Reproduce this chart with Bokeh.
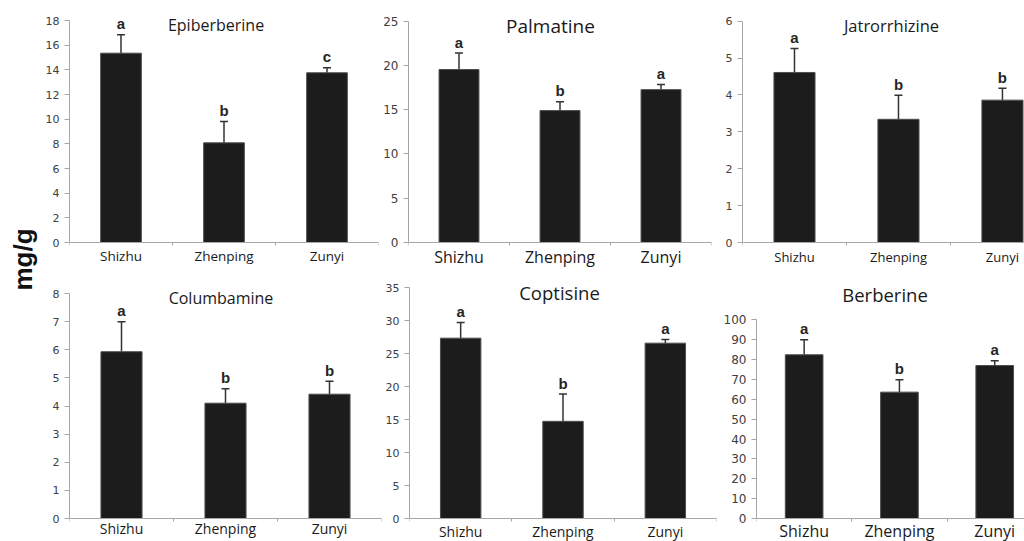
import math
from bokeh.plotting import figure
from bokeh.layouts import row, column
from bokeh.models import (Range1d, FixedTicker, Label, Whisker, TeeHead,
                          ColumnDataSource)
from bokeh.embed import file_html
from bokeh.resources import INLINE
from bokeh.core.properties import value

# ---------------- data ----------------
sites = ["Shizhu", "Zhenping", "Zunyi"]
compounds = ["Epiberberine", "Palmatine", "Jatrorrhizine",
             "Columbamine", "Coptisine", "Berberine"]
y_label = "mg/g"

epi_mean = [15.35, 8.08, 13.76]
epi_sd = [1.49, 1.73, 0.41]
epi_letters = ["a", "b", "c"]

pal_mean = [19.54, 14.90, 17.27]
pal_sd = [1.86, 1.00, 0.57]
pal_letters = ["a", "b", "a"]

jat_mean = [4.61, 3.34, 3.86]
jat_sd = [0.65, 0.65, 0.32]
jat_letters = ["a", "b", "b"]

col_mean = [5.93, 4.10, 4.42]
col_sd = [1.07, 0.51, 0.46]
col_letters = ["a", "b", "b"]

cop_mean = [27.36, 14.74, 26.60]
cop_sd = [2.38, 4.14, 0.57]
cop_letters = ["a", "b", "a"]

ber_mean = [82.4, 63.6, 77.0]
ber_sd = [7.5, 6.2, 2.4]
ber_letters = ["a", "b", "a"]

y_max = [18, 25, 6, 8, 35, 100]
y_step = [2, 5, 1, 1, 5, 10]

means = [epi_mean, pal_mean, jat_mean, col_mean, cop_mean, ber_mean]
sds = [epi_sd, pal_sd, jat_sd, col_sd, cop_sd, ber_sd]
letters = [epi_letters, pal_letters, jat_letters, col_letters, cop_letters, ber_letters]

# ---------------- layout / style ----------------
# w,h: figure size; l,r,t: borders (frame runs to the figure bottom);
# z: pixel of y=0 from figure top; top_px: pixel of y_max from frame top;
# xend: x extent in category widths; tf/cf/kf: font sizes; tx: title centre
# from frame left (px); ty: title centre from frame top (px); so: label standoff
layout_spec = [
    dict(w=338, h=270, l=26, r=2, t=10, z=242, top_px=10, xend=3.0, tf="16px", cf="13.5px", kf="11px", tx=147, ty=14, so=1),
    dict(w=340, h=270, l=28, r=9, t=10, z=242, top_px=10.7, xend=3.0, tf="19px", cf="16px", kf="12px", tx=142, ty=15.3, so=0),
    dict(w=304, h=270, l=22, r=0, t=10, z=242, top_px=10.7, xend=2.712, tf="16.5px", cf="13px", kf="11px", tx=149, ty=15, so=2),
    dict(w=340, h=271, l=27, r=1, t=10, z=248, top_px=13, xend=3.0, tf="16px", cf="14px", kf="11px", tx=151.5, ty=17.5, so=-3),
    dict(w=338, h=271, l=27, r=4, t=10, z=248, top_px=7.3, xend=3.0, tf="18.5px", cf="14px", kf="11px", tx=150, ty=11.7, so=0),
    dict(w=304, h=271, l=34, r=0, t=10, z=248, top_px=39.3, xend=2.8125, tf="18.5px", cf="16px", kf="12px", tx=129.5, ty=13.8, so=-2),
]

AXIS_C = "#a6a6a6"
TEXT_C = "#1a1a1a"
TICK_C = "#404040"

figs = []
for i, name in enumerate(compounds):
    s = layout_spec[i]
    frame_w = s["w"] - s["l"] - s["r"]
    ppu = (s["z"] - s["t"] - s["top_px"]) / y_max[i]      # pixels per unit
    y_end = y_max[i] + s["top_px"] / ppu
    y_start = -(s["h"] - s["z"]) / ppu

    xs = [k + 0.5 for k in range(len(sites))]
    tops = [m + d for m, d in zip(means[i], sds[i])]
    src = ColumnDataSource(dict(x=xs, mean=means[i], top=tops, lab=letters[i]))

    p = figure(width=s["w"], height=s["h"], output_backend="svg",
               toolbar_location=None,
               x_range=Range1d(0, s["xend"]), y_range=Range1d(y_start, y_end),
               min_border_left=s["l"], min_border_right=s["r"],
               min_border_top=s["t"], min_border_bottom=0)
    p.outline_line_color = None
    p.xgrid.visible = False
    p.ygrid.visible = False
    p.background_fill_color = "white"
    p.border_fill_color = "white"

    p.vbar(x="x", top="mean", bottom=0, width=0.395, source=src,
           fill_color="#1c1c1c", line_color="#4d4d4d", line_width=1)

    p.add_layout(Whisker(base="x", lower="mean", upper="top", source=src,
                         lower_head=None,
                         upper_head=TeeHead(size=8, line_color="#333333", line_width=1.5),
                         line_color="#333333", line_width=1.5))

    p.text(x="x", y="top", text="lab", source=src, text_align="center",
           text_baseline="middle", y_offset=-11,
           text_font=value("Liberation Sans"), text_font_size="15px",
           text_font_style="bold", text_color="#262626")

    # title placed from the frame geometry
    tx = s["tx"] / frame_w * s["xend"]
    ty = y_end - s["ty"] / ppu
    p.add_layout(Label(x=tx, y=ty, text=name, text_align="center",
                       text_baseline="middle", text_font="Open Sans",
                       text_font_size=s["tf"], text_color=TEXT_C))

    # x axis at y=0: labels at category centres, ticks at category boundaries
    xa = p.xaxis[0]
    xa.fixed_location = 0
    xa.bounds = (0, s["xend"])
    xa.ticker = FixedTicker(ticks=xs, minor_ticks=[0, 1, 2, 3])
    xa.major_label_overrides = {x: lab for x, lab in zip(xs, sites)}
    xa.axis_line_color = AXIS_C
    xa.major_tick_line_color = None
    xa.major_tick_out = 0
    xa.major_tick_in = 0
    xa.minor_tick_line_color = AXIS_C
    xa.minor_tick_out = 3
    xa.minor_tick_in = 0
    xa.major_label_standoff = s["so"]
    xa.major_label_text_font = "Open Sans"
    xa.major_label_text_font_size = s["cf"]
    xa.major_label_text_color = TEXT_C

    ya = p.yaxis[0]
    ya.ticker = FixedTicker(ticks=list(range(0, y_max[i] + 1, y_step[i])), minor_ticks=[])
    ya.bounds = (0, y_max[i])
    ya.axis_line_color = AXIS_C
    ya.major_tick_line_color = AXIS_C
    ya.major_tick_out = 5
    ya.major_tick_in = 0
    ya.major_label_standoff = 5
    ya.major_label_text_font = "DejaVu Sans"
    ya.major_label_text_font_size = s["kf"]
    ya.major_label_text_color = TICK_C
    figs.append(p)

# y-axis unit label spanning both rows
lab_fig = figure(width=42, height=541, output_backend="svg", toolbar_location=None,
                 x_range=Range1d(0, 1), y_range=Range1d(0, 1),
                 x_axis_type=None, y_axis_type=None, min_border=0)
lab_fig.outline_line_color = None
lab_fig.xgrid.visible = False
lab_fig.ygrid.visible = False
lab_fig.add_layout(Label(x=22, y=282, x_units="screen", y_units="screen",
                         text=y_label, angle=math.pi / 2, text_align="center",
                         text_baseline="middle", text_font="Liberation Sans",
                         text_font_style="bold", text_font_size="26px",
                         text_color="#111111"))

root = row(lab_fig,
           column(row(figs[0], figs[1], figs[2]), row(figs[3], figs[4], figs[5])))

open("out.html", "w").write(file_html(root, INLINE))
